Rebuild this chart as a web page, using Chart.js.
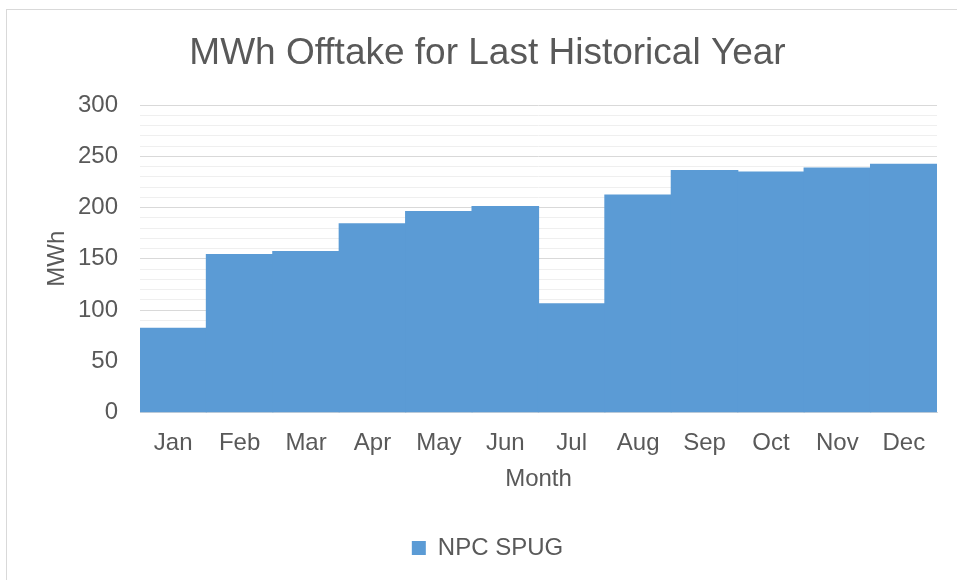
<!DOCTYPE html>
<html>
<head>
<meta charset="utf-8">
<script src="https://cdn.jsdelivr.net/npm/chart.js@4"></script>
<style>
  html, body { margin: 0; padding: 0; background: #fff; }
  #frame { position: absolute; left: 6px; top: 9px; width: 1000px; height: 1000px; border: 1px solid #d9d9d9; }
  #wrap { position: absolute; left: 0; top: 0; width: 957px; height: 580px; }
</style>
</head>
<body>
<div id="frame"></div>
<div id="wrap"><canvas id="offtakeChart"></canvas></div>
<script>
// data
const months = ["Jan", "Feb", "Mar", "Apr", "May", "Jun", "Jul", "Aug", "Sep", "Oct", "Nov", "Dec"];
const npcSpug = [82, 154, 157, 184, 196, 201, 106, 212, 236, 234.5, 238.5, 242];
const yMajorTicks = [0, 50, 100, 150, 200, 250, 300];

const textColor = "#595959";
const fontFamily = "'Liberation Sans', Arial, sans-serif";

const ctx = document.getElementById("offtakeChart");
new Chart(ctx, {
    type: "bar",
    data: {
        labels: months,
        datasets: [
            {
                label: "NPC SPUG",
                data: npcSpug,
                backgroundColor: "#5B9BD5",
                categoryPercentage: 1,
                barPercentage: 1,
                inflateAmount: 0.6,
            },
        ],
    },
    options: {
        responsive: true,
        maintainAspectRatio: false,
        animation: false,
        layout: {
            padding: { left: 38, right: 20, top: 10, bottom: 10 },
        },
        plugins: {
            title: {
                display: true,
                text: "MWh Offtake for Last Historical Year",
                color: textColor,
                font: { family: fontFamily, size: 37, weight: "normal" },
                padding: { top: 21.5, bottom: 29.1 },
            },
            legend: {
                display: true,
                position: "bottom",
                labels: {
                    color: textColor,
                    font: { family: fontFamily, size: 24 },
                    boxWidth: 14,
                    boxHeight: 14,
                    padding: 10,
                },
            },
            tooltip: { enabled: false },
        },
        scales: {
            x: {
                grid: { display: false, drawTicks: false },
                border: { display: true, color: "#d9d9d9" },
                ticks: {
                    color: textColor,
                    font: { family: fontFamily, size: 24 },
                    padding: 16,
                    maxRotation: 0,
                },
                title: {
                    display: true,
                    text: "Month",
                    color: textColor,
                    font: { family: fontFamily, size: 24 },
                    padding: { top: 0, bottom: 32.6 },
                },
                afterFit: (scale) => { scale.height = 113.5; },
            },
            y: {
                min: 0,
                max: 300,
                border: { display: false },
                grid: {
                    drawTicks: false,
                    color: (c) => (yMajorTicks.includes(c.tick.value) ? "#d9d9d9" : "#efefef"),
                    lineWidth: 1,
                },
                ticks: {
                    stepSize: 10,
                    autoSkip: false,
                    color: textColor,
                    font: { family: fontFamily, size: 24 },
                    padding: 22,
                    callback: (v) => (yMajorTicks.includes(v) ? v : ""),
                },
                title: {
                    display: true,
                    text: "MWh",
                    color: textColor,
                    font: { family: fontFamily, size: 24 },
                    padding: { top: 4.6, bottom: 0 },
                },
                afterFit: (scale) => { scale.width = 102; },
            },
        },
    },
});
</script>
</body>
</html>
